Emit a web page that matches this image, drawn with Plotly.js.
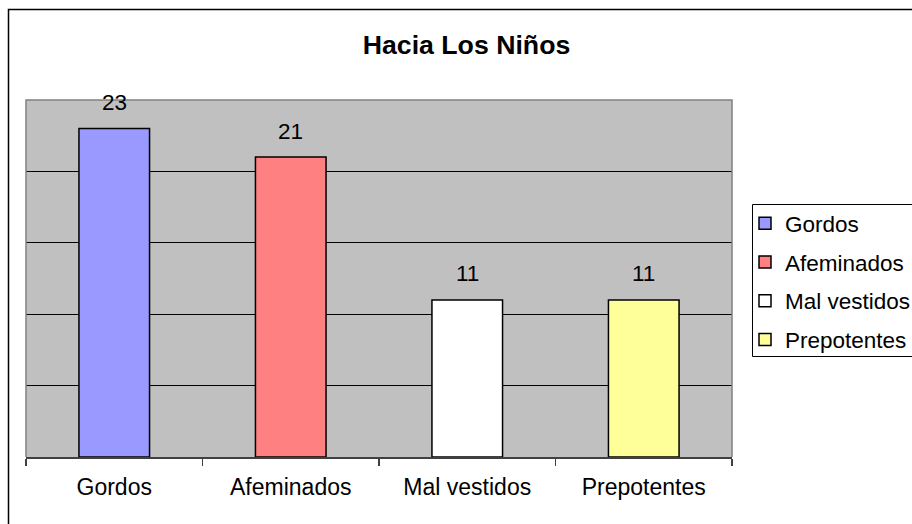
<!DOCTYPE html>
<html>
<head>
<meta charset="utf-8">
<script src="https://cdn.plot.ly/plotly-3.0.1.min.js"></script>
<style>html,body{margin:0;padding:0;background:#fff;}#chart{width:912px;height:524px;}</style>
</head>
<body>
<div id="chart"></div>
<script>
const categories = ["Gordos", "Afeminados", "Mal vestidos", "Prepotentes"];
const values = [23, 21, 11, 11];
const colors = ["#9999FF", "#FF8080", "#FFFFFF", "#FFFF99"];
const titleText = "Hacia Los Niños";
const gridVals = [5, 10, 15, 20];

const FONT = "Liberation Sans, Arial, sans-serif";
const W = 912, H = 524;
const L = 26, R = 732, T = 100, B = 457;
const pw = R - L, ph = B - T;
const px = v => (v - L) / pw;
const py = v => (B - v) / ph;

const traces = categories.map((c, i) => ({
  type: "bar",
  name: c,
  x: [c],
  y: [values[i]],
  width: 0.4,
  marker: {color: colors[i], line: {color: "#000", width: 1.5}},
  legendgroup: "g" + i,
  hoverinfo: "skip"
}));

const annotations = categories.map((c, i) => ({
  x: c, y: values[i], xref: "x", yref: "y",
  text: String(values[i]), showarrow: false,
  yanchor: "middle", yshift: 26,
  font: {family: FONT, size: 22.5, color: "#000"}
}));

const layout = {
  width: W, height: H,
  margin: {l: L, r: W - R, t: T, b: H - B, pad: 0, autoexpand: false},
  paper_bgcolor: "#fff",
  plot_bgcolor: "#C0C0C0",
  barmode: "overlay",
  font: {family: FONT, size: 23, color: "#000"},
  title: {
    text: "<b>" + titleText + "</b>",
    font: {family: FONT, size: 26.7, color: "#000"},
    xref: "paper", x: px(466.5), xanchor: "center",
    yref: "container", y: 1 - 45 / H, yanchor: "middle",
    automargin: false
  },
  xaxis: {
    type: "category", categoryorder: "array", categoryarray: categories,
    range: [-0.5, 3.5],
    showline: true, linecolor: "#404040", linewidth: 1.5,
    ticks: "outside", tickson: "boundaries", ticklen: 7, tickcolor: "#404040", tickwidth: 1.5,
    showgrid: false, zeroline: false,
    tickfont: {family: FONT, size: 23, color: "#000"},
    ticklabelstandoff: 9,
    automargin: false,
    fixedrange: true
  },
  yaxis: {
    range: [0, 25], tickvals: gridVals,
    showticklabels: false, ticks: "",
    showgrid: true, gridcolor: "#000", gridwidth: 1,
    zeroline: false, showline: false, fixedrange: true, automargin: false
  },
  showlegend: true,
  legend: {
    x: px(745), xanchor: "left", xref: "paper",
    y: py(202), yanchor: "top", yref: "paper",
    bgcolor: "rgba(0,0,0,0)", borderwidth: 0,
    font: {family: FONT, size: 22.5, color: "#000"},
    traceorder: "grouped", tracegroupgap: 6.5,
    itemclick: false, itemdoubleclick: false
  },
  annotations: annotations,
  shapes: [
    {type: "path", xref: "paper", yref: "paper", layer: "above",
     path: "M 0 0 L 0 1 L 1 1 L 1 0", line: {color: "#808080", width: 1.5}},
    {type: "rect", xref: "paper", yref: "paper", layer: "above",
     x0: px(752.5), x1: px(930), y0: py(356.5), y1: py(204.5),
     line: {color: "#000", width: 1}, fillcolor: "#fff"},
    {type: "rect", xref: "paper", yref: "paper", layer: "above",
     x0: px(8.5), x1: px(930), y0: py(540), y1: py(9.5),
     line: {color: "#000", width: 1.5}, fillcolor: "rgba(0,0,0,0)"}
  ]
};

Plotly.newPlot("chart", traces, layout, {staticPlot: true, displayModeBar: false});
</script>
</body>
</html>
